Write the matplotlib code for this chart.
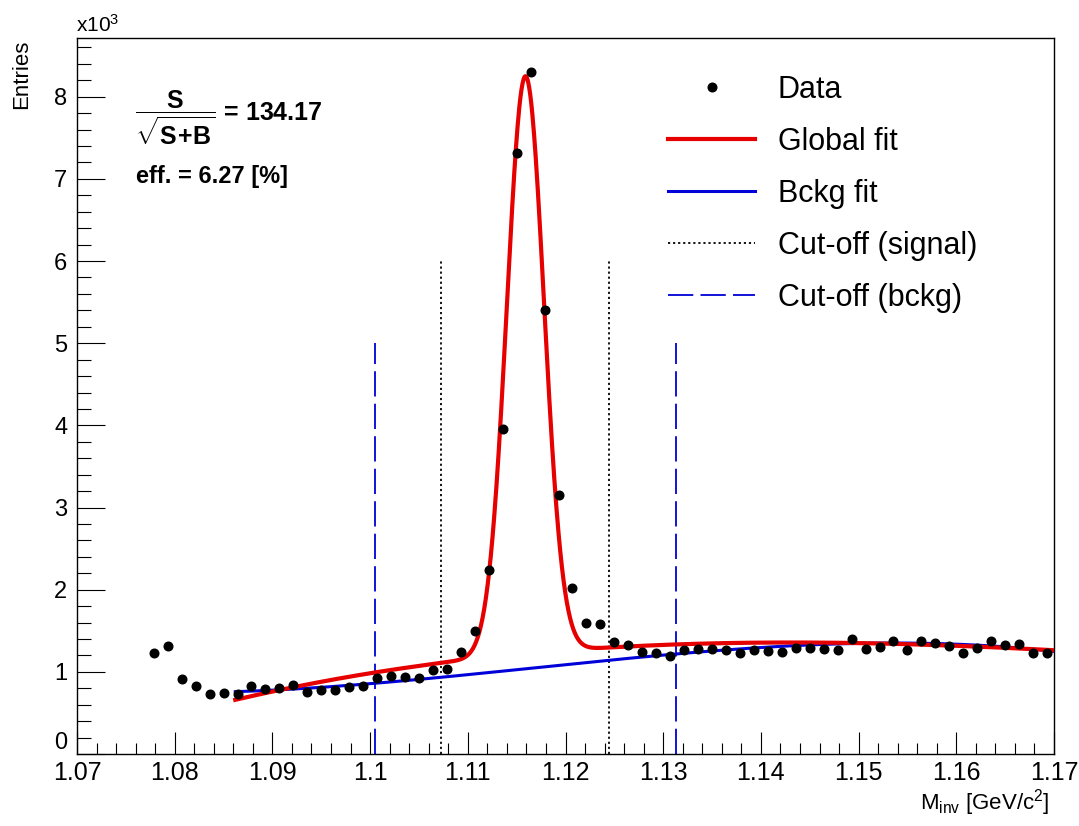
import numpy as np
import matplotlib
matplotlib.use("Agg")
import matplotlib.pyplot as plt
from matplotlib.ticker import MultipleLocator, FixedLocator, FixedFormatter
from matplotlib.lines import Line2D

FONT = ["Liberation Sans Narrow", "Liberation Sans", "DejaVu Sans"]
plt.rcParams["font.family"] = FONT
plt.rcParams["mathtext.fontset"] = "custom"
plt.rcParams["mathtext.rm"] = "Liberation Sans:bold"
plt.rcParams["mathtext.it"] = "Liberation Sans:bold"
plt.rcParams["mathtext.bf"] = "Liberation Sans:bold"
plt.rcParams["mathtext.sf"] = "Liberation Sans"

# ---------------- data (entries in units of 10^3) ----------------
x_lo, x_hi, n_bins = 1.07, 1.17, 70
first_bin = 5
entries_k = [1.226, 1.319, 0.910, 0.825, 0.727, 0.739, 0.731, 0.825, 0.796, 0.804, 0.837, 0.759,
             0.780, 0.780, 0.820, 0.828, 0.922, 0.950, 0.934, 0.922, 1.023, 1.032, 1.239, 1.500,
             2.240, 3.950, 7.320, 8.300, 5.400, 3.150, 2.020, 1.590, 1.580, 1.364, 1.324, 1.242,
             1.234, 1.194, 1.267, 1.279, 1.279, 1.267, 1.230, 1.270, 1.251, 1.242, 1.295, 1.287,
             1.283, 1.270, 1.404, 1.283, 1.300, 1.373, 1.262, 1.376, 1.348, 1.319, 1.226, 1.295,
             1.373, 1.324, 1.336, 1.226, 1.234]

# global fit: gaussian signal + polynomial background
sig_amp, sig_mean, sig_sigma = 7.03, 1.1159, 0.0019
glob_bg_x = [1.0860, 1.0928, 1.1007, 1.1075, 1.1245, 1.1314, 1.1399, 1.1494, 1.1621, 1.1696]
glob_bg_y = [0.658, 0.830, 0.983, 1.112, 1.312, 1.327, 1.356, 1.356, 1.290, 1.276]
# background-only fit
bkg_x = [1.0863, 1.0928, 1.1007, 1.1075, 1.1167, 1.1194, 1.1245, 1.1314, 1.1399, 1.1501, 1.1604, 1.1696]
bkg_y = [0.767, 0.800, 0.840, 0.934, 1.044, 1.072, 1.153, 1.246, 1.300, 1.340, 1.300, 1.276]
fit_lo, fit_hi = 1.0862, 1.17

sig_cut_x = [1.10726, 1.12445]
sig_cut_h = 6.0
bkg_cut_x = [1.1005, 1.1313]
bkg_cut_h = 5.0

x_ticks = [1.07, 1.08, 1.09, 1.10, 1.11, 1.12, 1.13, 1.14, 1.15, 1.16, 1.17]
x_tick_labels = ["1.07", "1.08", "1.09", "1.1", "1.11", "1.12", "1.13", "1.14", "1.15", "1.16", "1.17"]
y_ticks = [0, 1, 2, 3, 4, 5, 6, 7, 8]
y_tick_labels = ["0", "1", "2", "3", "4", "5", "6", "7", "8"]
legend_labels = ["Data", "Global fit", "Bckg fit", "Cut-off (signal)", "Cut-off (bckg)"]
signif_value = "134.17"
eff_value = "6.27"

# ---------------- figure ----------------
W, H = 1079, 826
fig = plt.figure(figsize=(W / 100, H / 100), dpi=100)
L, R, T, B = 77, 1054, 38, 754
ax = fig.add_axes([L / W, 1 - B / H, (R - L) / W, (B - T) / H])

bw = (x_hi - x_lo) / n_bins
centers = x_lo + (np.arange(first_bin, first_bin + len(entries_k)) + 0.5) * bw

xf = np.linspace(fit_lo, fit_hi, 1500)
off = 1.12
gcoef = np.polyfit(np.array(glob_bg_x) - off, glob_bg_y, 3)
bcoef = np.polyfit(np.array(bkg_x) - off, bkg_y, 3)
glob_fit = np.polyval(gcoef, xf - off) + sig_amp * np.exp(-0.5 * ((xf - sig_mean) / sig_sigma) ** 2)
bkg_fit = np.polyval(bcoef, xf - off)

RED = "#e60000"
BLUE = "#0000d8"

ax.plot(xf, bkg_fit, color=BLUE, lw=2.2, zorder=3)
ax.plot(xf, glob_fit, color=RED, lw=3.0, zorder=4)
ax.plot(centers, entries_k, "o", color="black", ms=6.2, zorder=5)

ax.vlines(sig_cut_x, 0, sig_cut_h, colors="black", lw=1.3, linestyles=(0, (1.2, 1.6)), zorder=2)
ax.vlines(bkg_cut_x, 0, bkg_cut_h, colors=BLUE, lw=1.3, linestyles=(0, (14, 4)), zorder=2)

ax.set_xlim(x_lo, x_hi)
ax.set_ylim(0, 8.715)
ax.xaxis.set_major_locator(FixedLocator(x_ticks))
ax.xaxis.set_major_formatter(FixedFormatter(x_tick_labels))
ax.xaxis.set_minor_locator(MultipleLocator(0.002))
ax.yaxis.set_major_locator(FixedLocator(y_ticks))
ax.yaxis.set_major_formatter(FixedFormatter(y_tick_labels))
ax.yaxis.set_minor_locator(MultipleLocator(0.2))
ax.tick_params(axis="both", which="both", direction="in", top=False, right=False, color="black", width=0.8)
ax.tick_params(axis="x", which="major", length=16, pad=5, labelsize=18)
ax.tick_params(axis="x", which="minor", length=8)
ax.tick_params(axis="y", which="major", length=20, pad=7, labelsize=17)
ax.tick_params(axis="y", which="minor", length=10)
for s in ax.spines.values():
    s.set_linewidth(1.0)
fig.canvas.draw()
ax.get_yticklabels()[0].set_verticalalignment("bottom")

# legend
LFS = 22
handles = [
    Line2D([], [], ls="none", marker="o", color="black", ms=6.2),
    Line2D([], [], color=RED, lw=3.0),
    Line2D([], [], color=BLUE, lw=2.2),
    Line2D([], [], color="black", lw=1.3, ls=(0, (1.2, 1.6))),
    Line2D([], [], color=BLUE, lw=1.3, ls=(0, (14, 4))),
]
leg = ax.legend(handles, legend_labels, loc="center left",
                bbox_to_anchor=((668 - L) / (R - L), (B - 194) / (B - T)),
                frameon=False, fontsize=LFS, handlelength=2.85, handletextpad=0.75,
                labelspacing=0.72, borderpad=0, borderaxespad=0)

# annotation text
ax.text((135 - L) / (R - L), (B - 118) / (B - T),
        r"$\dfrac{S}{\sqrt{S\!+\!B}}$" + " = " + signif_value,
        transform=ax.transAxes, ha="left", va="center", fontsize=18, fontweight="bold")
ax.text((136 - L) / (R - L), (B - 177) / (B - T), "eff. = " + eff_value + " [%]",
        transform=ax.transAxes, ha="left", va="center", fontsize=17, fontweight="bold")

# axis titles
fig.text(22 / W, 1 - 40 / H, "Entries", rotation=90, ha="center", va="top", fontsize=16)
fig.text(76 / W, 1 - 25 / H, r"x10$^{\mathsf{3}}$", ha="left", va="center", fontsize=15)
fig.text(1050 / W, 1 - 803 / H, r"M$_{\mathsf{inv}}$ [GeV/c$^{\mathsf{2}}$]", ha="right", va="center",
         fontsize=16)

fig.savefig("out.png", dpi=100)
